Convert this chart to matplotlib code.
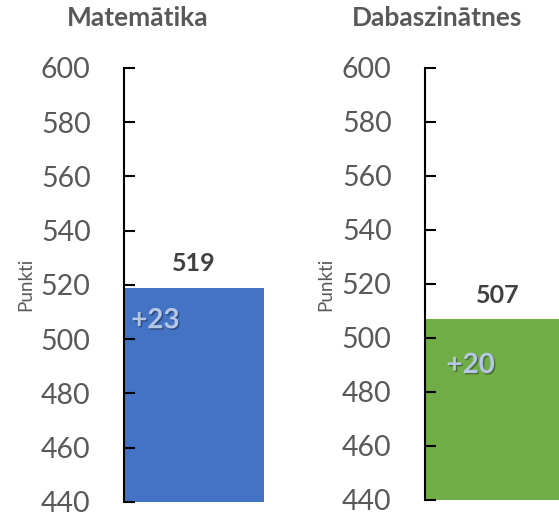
import matplotlib
matplotlib.use("Agg")
import matplotlib.pyplot as plt
import matplotlib.patheffects as pe

plt.rcParams['font.family'] = ['Lato', 'DejaVu Sans']

subjects = ["Matemātika", "Dabaszinātnes"]
scores = [519, 507]
changes = ["+23", "+20"]
colors = ["#4472C4", "#70AD47"]
yticks = [440, 460, 480, 500, 520, 540, 560, 580, 600]
ylabel = "Punkti"

fig = plt.figure(figsize=(5.59, 5.17), dpi=100)

# axes rectangles in figure fractions (left, bottom, width, height)
rects = [[124/559, 1-502/517, 156/559, 434/517],
         [425/559, 1-500/517, 134/559, 432/517]]
bar_w = [0.9, 1.0]
title_x = [138/559, 437/559]
change_pos = [(0.2, 507), (0.34, 490)]
label_x = [26/559, 326/559]

gray = "#595959"
for i in range(2):
    ax = fig.add_axes(rects[i])
    ax.bar([0], [scores[i] - 440], bottom=440, width=bar_w[i], align='edge',
           color=colors[i])
    ax.set_xlim(0, 1)
    ax.set_ylim(440, 600)
    ax.set_yticks(yticks)
    ax.tick_params(axis='y', direction='in', length=8, width=1.5,
                   labelsize=20.5, labelcolor=gray, pad=24)
    ax.set_xticks([])
    for s in ['top', 'right', 'bottom']:
        ax.spines[s].set_visible(False)
    ax.spines['left'].set_linewidth(1.5)
    ax.patch.set_alpha(0)
    # value above bar
    ax.annotate(str(scores[i]), (bar_w[i] / 2 + (0 if i == 0 else 0.04), scores[i]),
                xytext=(0, 9), textcoords='offset points', ha='center', va='bottom',
                fontsize=18, fontweight='bold', color="#404040")
    # change inside bar
    t = ax.text(change_pos[i][0], change_pos[i][1], changes[i], ha='center', va='center',
                fontsize=20, fontweight='bold', color="#B4C7E7")
    t.set_path_effects([pe.withSimplePatchShadow(offset=(1, -1), shadow_rgbFace='black', alpha=0.35)])
    fig.text(title_x[i], 1 - 18/517, subjects[i], ha='center', va='center',
             fontsize=19, fontweight='bold', color=gray)
    fig.text(label_x[i], 1 - 284/517, ylabel, rotation=90, ha='center', va='center',
             fontsize=13.5, color=gray)

fig.savefig("out.png", dpi=100)
